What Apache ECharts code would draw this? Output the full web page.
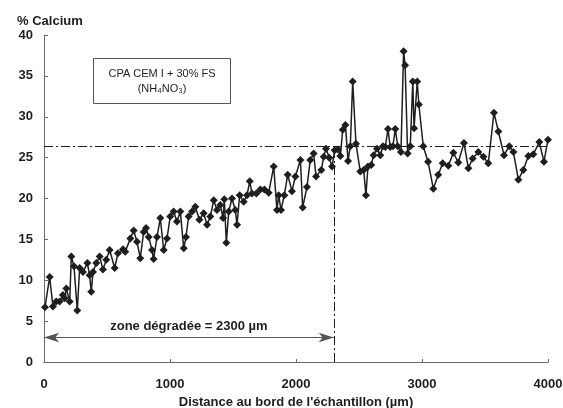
<!DOCTYPE html>
<html>
<head>
<meta charset="utf-8">
<script src="https://cdn.jsdelivr.net/npm/echarts@6/dist/echarts.min.js"></script>
<style>
  html, body { margin: 0; padding: 0; background: #fff; }
  #chart { width: 563px; height: 408px; }
</style>
</head>
<body>
<div id="chart"></div>
<script>
// Calcium profile measured across the sample (distance in µm, % Ca)
const distance = [
  8, 45, 71, 97, 124, 150, 164, 177, 204, 217, 238, 264, 283, 309, 344, 362, 375, 389, 415, 442,
  468, 494, 521, 561, 587, 627, 645, 685, 712, 738, 764, 791, 810, 831, 857, 870, 897, 923, 950, 976,
  1002, 1029, 1055, 1082, 1109, 1127, 1148, 1175, 1201, 1233, 1267, 1294, 1320, 1347, 1373, 1399, 1421, 1431, 1447, 1466,
  1492, 1518, 1532, 1553, 1585, 1611, 1633, 1651, 1685, 1717, 1749, 1783, 1823, 1849, 1862, 1881, 1907, 1934, 1968, 1995,
  2035, 2053, 2087, 2113, 2140, 2159, 2201, 2220, 2238, 2264, 2286, 2307, 2333, 2352, 2371, 2392, 2413, 2431, 2450, 2476,
  2510, 2537, 2555, 2571, 2597, 2616, 2643, 2669, 2690, 2709, 2730, 2748, 2769, 2788, 2807, 2833, 2854, 2866, 2886, 2907,
  2927, 2937, 2962, 2975, 3010, 3048, 3090, 3129, 3164, 3209, 3249, 3288, 3333, 3368, 3402, 3447, 3487, 3526, 3571, 3606,
  3651, 3693, 3725, 3765, 3804, 3844, 3883, 3931, 3968, 4000
];
const calcium = [
  6.7, 10.4, 6.8, 7.4, 7.4, 8.2, 7.8, 9.0, 7.4, 12.9, 11.7, 6.3, 11.5, 11.0, 12.1, 10.6, 8.6, 11.0, 12.1, 12.9,
  11.3, 12.5, 13.7, 11.5, 13.3, 13.8, 13.5, 15.1, 16.1, 14.7, 12.7, 15.9, 16.4, 15.3, 13.7, 12.6, 15.3, 17.6, 13.7, 15.1,
  17.8, 18.4, 17.2, 18.4, 13.9, 15.3, 17.8, 18.4, 19.0, 17.4, 18.2, 16.8, 17.8, 19.8, 18.6, 19.2, 17.6, 19.9, 14.6, 18.4,
  20.0, 18.6, 16.8, 20.4, 19.6, 20.4, 22.1, 20.6, 20.6, 21.1, 21.1, 20.7, 23.9, 18.6, 20.4, 18.6, 20.4, 22.9, 20.9, 22.7,
  24.7, 18.9, 21.4, 24.7, 25.5, 22.7, 23.5, 25.1, 26.1, 25.0, 23.9, 25.9, 26.0, 25.2, 28.4, 29.0, 24.6, 26.4, 34.3, 26.7,
  23.3, 23.5, 20.4, 23.9, 24.1, 25.3, 26.1, 25.3, 26.4, 26.3, 28.5, 26.3, 26.4, 28.5, 26.4, 25.7, 38.0, 36.3, 25.5, 26.4,
  34.3, 28.6, 34.3, 31.5, 26.4, 24.5, 21.2, 22.9, 24.3, 24.0, 25.6, 24.4, 26.8, 23.7, 24.9, 25.7, 25.1, 24.3, 30.5, 28.2,
  25.3, 26.4, 25.7, 22.3, 23.5, 25.2, 25.4, 26.9, 24.5, 27.2
];

// Reference levels drawn over the profile
const plateauLevel = 26.4;   // sound-core calcium content
const zoneDepth = 2300;      // depth of the degraded zone, µm
const arrowLevel = 3;        // height of the dimension arrow
const xTicks = [0, 1000, 2000, 3000, 4000];
const yTicks = [0, 5, 10, 15, 20, 25, 30, 35, 40];

const ink = '#1e1e1e';
const frame = '#6a6a6a';
const font = 'Liberation Sans, Arial, sans-serif';
const dashDot = [9, 3, 2, 3];

const chart = echarts.init(document.getElementById('chart'), null, { renderer: 'canvas' });

chart.setOption({
  animation: false,
  backgroundColor: '#ffffff',
  grid: { left: 44, right: 15, top: 35, bottom: 46, containLabel: false, outerBoundsMode: 'none' },
  title: {
    text: '% Calcium',
    left: 12, top: 10,
    textStyle: { fontFamily: font, fontWeight: 'bold', fontSize: 13, color: ink }
  },
  xAxis: [{
    type: 'value',
    min: xTicks[0], max: xTicks[xTicks.length - 1], interval: 1000,
    name: "Distance au bord de l'échantillon (µm)",
    nameLocation: 'middle', nameGap: 29,
    nameTextStyle: { fontFamily: font, fontWeight: 'bold', fontSize: 13, color: ink },
    axisLine: { show: true, onZero: false, lineStyle: { color: frame, width: 1 } },
    axisTick: { show: true, length: 3, inside: true, lineStyle: { color: frame } },
    axisLabel: {
      margin: 16, fontFamily: font, fontWeight: 'bold', fontSize: 13, color: ink,
      formatter: v => String(v)
    },
    splitLine: { show: false }
  }, {
    type: 'value', position: 'top',
    min: xTicks[0], max: xTicks[xTicks.length - 1],
    axisLine: { show: true, lineStyle: { color: frame, width: 1 } },
    axisTick: { show: false }, axisLabel: { show: false }, splitLine: { show: false }
  }],
  yAxis: [{
    type: 'value',
    min: yTicks[0], max: yTicks[yTicks.length - 1], interval: 5,
    axisLine: { show: false },
    axisTick: { show: true, length: 4, inside: true, lineStyle: { color: frame } },
    axisLabel: { margin: 11, fontFamily: font, fontWeight: 'bold', fontSize: 13, color: ink },
    splitLine: { show: false }
  }, {
    type: 'value', position: 'right',
    min: yTicks[0], max: yTicks[yTicks.length - 1],
    axisLine: { show: true, lineStyle: { color: frame, width: 1 } },
    axisTick: { show: false }, axisLabel: { show: false }, splitLine: { show: false }
  }],
  series: [{
    type: 'line',
    data: distance.map((d, i) => [d, calcium[i]]),
    symbol: 'diamond',
    symbolSize: 8,
    lineStyle: { color: ink, width: 1.5 },
    itemStyle: { color: ink },
    z: 3,
    markLine: {
      silent: true,
      symbol: 'none',
      animation: false,
      lineStyle: { color: ink, width: 1, type: dashDot },
      label: { show: false },
      data: [
        [{ coord: [xTicks[0], plateauLevel] }, { coord: [xTicks[xTicks.length - 1], plateauLevel] }],
        [{ coord: [zoneDepth, 0] }, { coord: [zoneDepth, plateauLevel] }],
        [
          {
            coord: [xTicks[0], arrowLevel],
            symbol: 'arrow', symbolSize: [7, 15],
            lineStyle: { type: 'solid', color: '#555', width: 1 },
            label: {
              show: true, position: 'middle', distance: 5,
              formatter: 'zone dégradée = ' + zoneDepth + ' µm',
              fontFamily: font, fontWeight: 'bold', fontSize: 13, color: ink
            }
          },
          { coord: [zoneDepth, arrowLevel], symbol: 'arrow', symbolSize: [7, 15] }
        ]
      ]
    }
  }],
  graphic: [{
    type: 'group',
    left: 93, top: 58,
    children: [
      {
        type: 'rect',
        shape: { x: 0, y: 0, width: 137, height: 45 },
        style: { fill: '#fff', stroke: '#555', lineWidth: 1 }
      },
      {
        type: 'text',
        x: 68.5, y: 15,
        style: {
          text: 'CPA CEM I + 30% FS',
          fontFamily: font, fontSize: 11, fill: ink,
          align: 'center', verticalAlign: 'middle'
        }
      },
      {
        type: 'text',
        x: 68.5, y: 30,
        style: {
          text: '(NH₄NO₃)',
          fontFamily: font, fontSize: 11, fill: ink,
          align: 'center', verticalAlign: 'middle'
        }
      }
    ]
  }]
});
</script>
</body>
</html>
